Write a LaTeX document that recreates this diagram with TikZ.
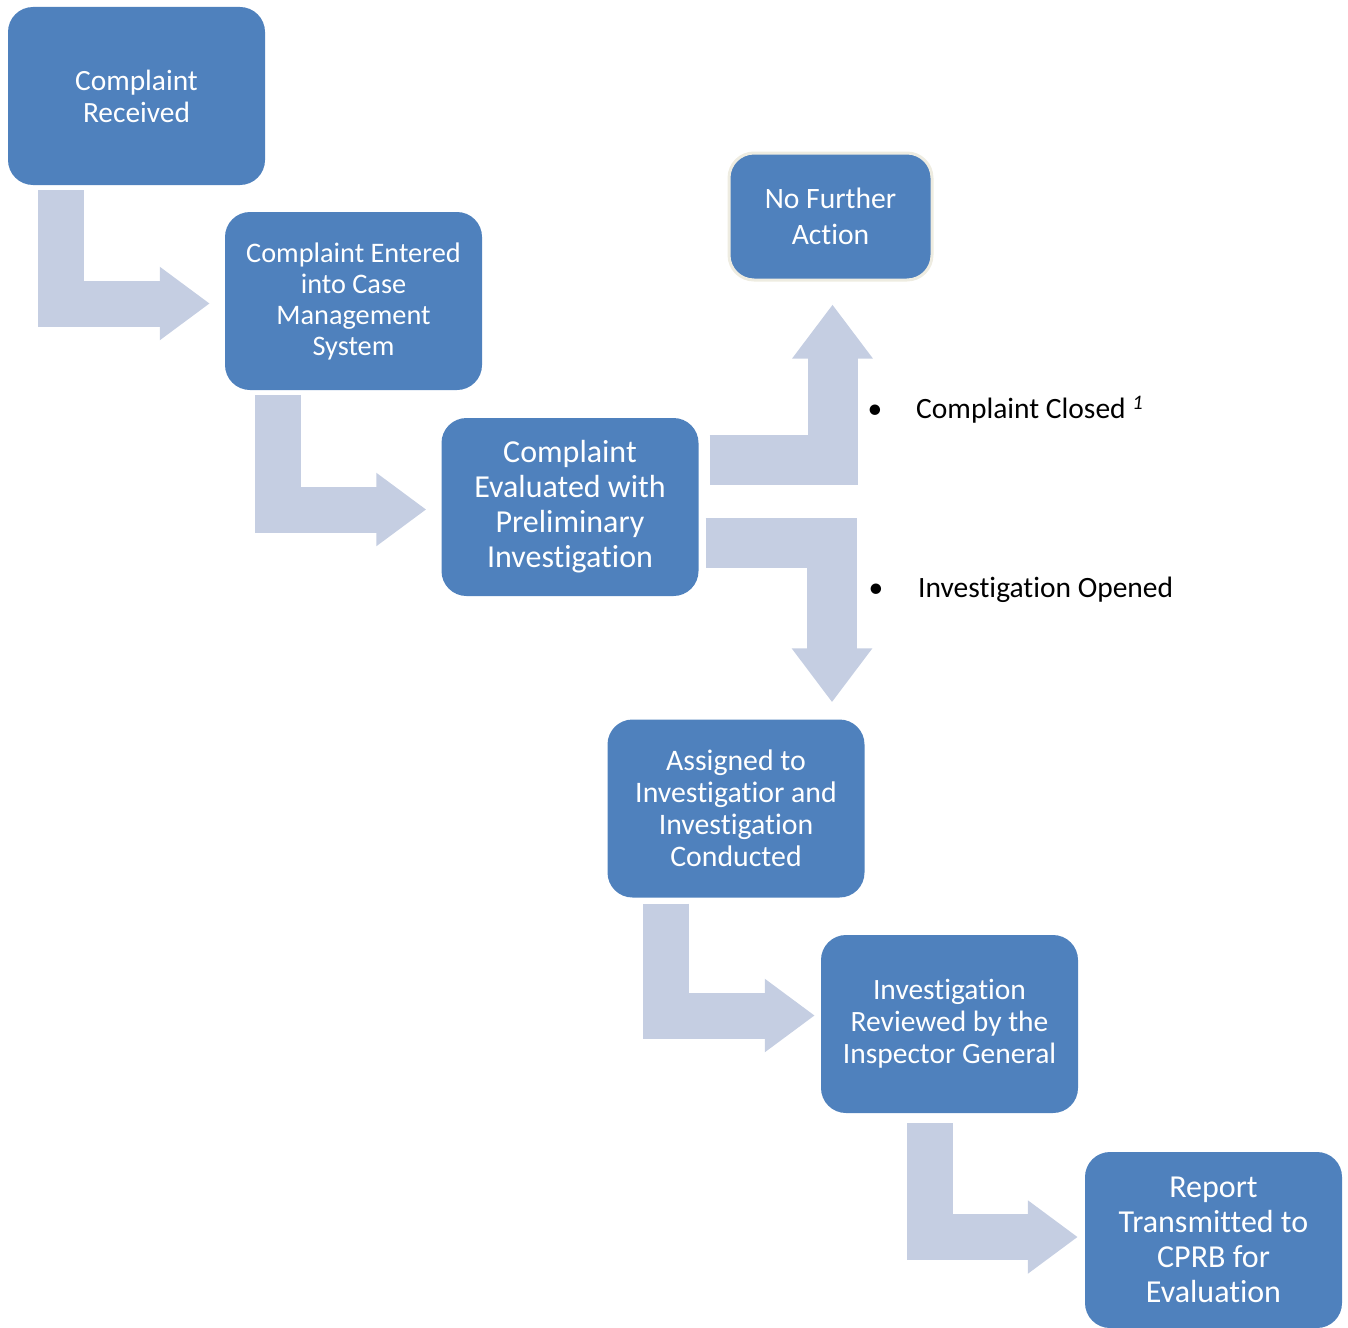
\documentclass[tikz,border=0pt]{standalone}
\usepackage{fontspec}
\setmainfont{Carlito}[RawFeature={-liga;-clig;-calt;-dlig}]
\usetikzlibrary{arrows.meta,calc}
\definecolor{boxblue}{HTML}{4F81BD}
\definecolor{flowgray}{HTML}{C5CEE2}
\definecolor{rimbeige}{HTML}{EEECE1}
\tikzset{
  stage/.style={rectangle, rounded corners=25pt, fill=boxblue, text=white, align=center,
    minimum width=257pt, minimum height=178pt, inner sep=0pt},
  flow/.style={draw=flowgray, line width=46pt, line join=miter,
    -{Triangle[length=50pt, width=70pt]}},
  bigflow/.style={draw=flowgray, line width=50pt, line join=miter,
    -{Triangle[length=54pt, width=77pt]}}
}
\begin{document}
\begin{tikzpicture}[x=1pt, y=-1pt]
    \useasboundingbox (0,0) rectangle (1348,1327);

    \node[stage, font=\fontsize{29.4}{32}\selectfont] (recv) at (136.5,96) {Complaint\\Received};
    \node[stage, font=\fontsize{28.3}{31}\selectfont] (entered) at (353.5,301) {Complaint Entered\\into Case\\Management\\System};
    \node[stage, font=\fontsize{32}{35}\selectfont] (eval) at (570,507) {Complaint\\Evaluated with\\Preliminary\\Investigation};
    \node[stage, draw=rimbeige, line width=3pt, minimum width=203pt, minimum height=127pt,
        font=\fontsize{29.6}{36}\selectfont] (nofurther) at (830.5,216.5) {No Further\\Action};
    \node[stage, font=\fontsize{29.8}{32}\selectfont] (assigned) at (736,808.5) {Assigned to\\Investigatior and\\Investigation\\Conducted};
    \node[stage, font=\fontsize{29.5}{32}\selectfont] (reviewed) at (949.5,1024) {Investigation\\Reviewed by the\\Inspector General};
    \node[stage, minimum height=176pt, font=\fontsize{32}{35}\selectfont] (report) at (1213.5,1240) {Report\\Transmitted to\\CPRB for\\Evaluation};

    \node[anchor=west, font=\fontsize{29.5}{32}\selectfont] (closed) at (864,410)
        {\textbullet\hspace{34pt}Complaint Closed \textsuperscript{\textit{1}}};
    \node[anchor=west, font=\fontsize{29.5}{32}\selectfont] (opened) at (865,590)
        {\textbullet\hspace{35pt}Investigation Opened};

    \draw[flow] ($(recv.south west)+(53.5,5)$) |- ($(entered.west)+(-15,2.5)$);
    \draw[flow] ($(entered.south west)+(53.5,5)$) |- ($(eval.west)+(-15,2.5)$);
    \draw[bigflow] ($(eval.east)+(11,-47)$) -| ($(nofurther.south)+(2,23)$);
    \draw[bigflow] ($(eval.east)+(7,35.5)$) -| ($(assigned.north)+(96,-17)$);
    \draw[flow] ($(assigned.south west)+(58.5,6)$) |- ($(reviewed.west)+(-6,-8.5)$);
    \draw[flow] ($(reviewed.south west)+(109.5,10)$) |- ($(report.west)+(-7,-3)$);
\end{tikzpicture}
\end{document}
